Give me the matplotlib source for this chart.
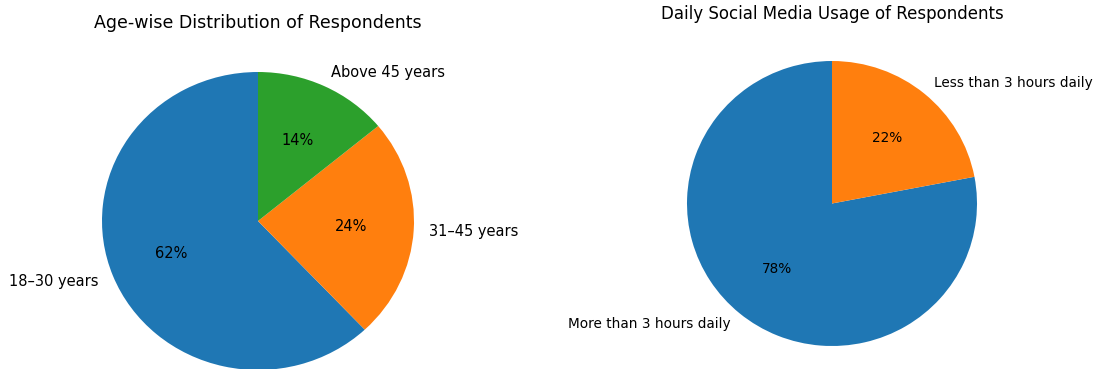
import matplotlib.pyplot as plt

# Age groups of respondents
age_labels = ["18–30 years", "31–45 years", "Above 45 years"]
age_share = [62, 24, 14]

# Daily time spent on social media
usage_labels = ["More than 3 hours daily", "Less than 3 hours daily"]
usage_share = [78, 22]

fig = plt.figure(figsize=(10.95, 3.69), dpi=100)

# pies are slightly wider than tall, so the boxes set their shape
ax1 = fig.add_axes([0.09315, -0.00271, 0.28493, 0.80759])
ax2 = fig.add_axes([0.62740, 0.06233, 0.26484, 0.77236])

ax1.pie(age_share, labels=age_labels, autopct="%1.0f%%", startangle=90,
        textprops={"fontsize": 10.5})
ax1.set_aspect("auto")
ax1.set_xlim(-1, 1)
ax1.set_ylim(-1, 1)
ax1.set_title("Age-wise Distribution of Respondents", fontsize=12.5, pad=31.7)

ax2.pie(usage_share, labels=usage_labels, autopct="%1.0f%%", startangle=90,
        textprops={"fontsize": 9.8})
ax2.set_aspect("auto")
ax2.set_xlim(-1, 1)
ax2.set_ylim(-1, 1)
ax2.set_title("Daily Social Media Usage of Respondents", fontsize=12, pad=30.3)

fig.savefig("out.png", dpi=100)
